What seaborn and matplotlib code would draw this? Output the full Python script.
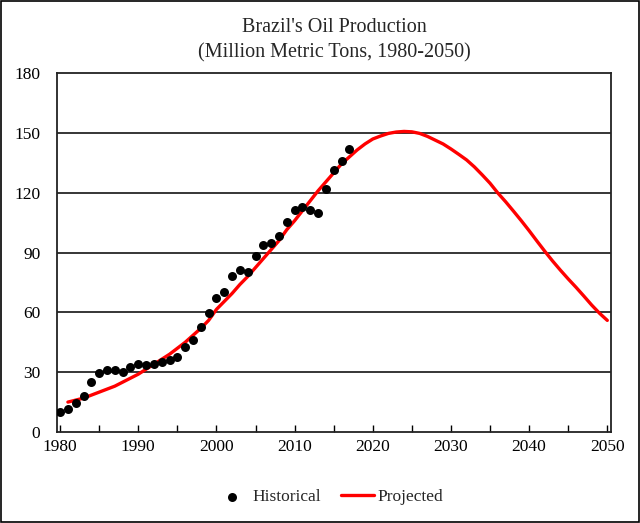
import numpy as np
import pandas as pd
import matplotlib.pyplot as plt
import seaborn as sns
from matplotlib.patches import Rectangle

# Historical production (1980-2017), million metric tons
hist_years = list(range(1980, 2018))
hist_values = [10, 11.5, 14.5, 18, 25, 29.5, 31, 31, 30, 32.5,
               34, 33.5, 34, 35, 36, 37.5, 42.5, 46, 52.5, 59.5,
               67, 70, 78.5, 81.5, 80.5, 88.5, 94, 95, 98.5, 105.5,
               111.5, 113, 111.5, 110, 122, 131.5, 136, 142]

# Projected curve (1981-2050)
proj_years = list(range(1981, 2051))
proj_values = [15, 16, 17, 18.5, 20, 21.5, 23, 25, 27,
               29, 31.5, 34, 36.5, 39, 42, 45, 48.5, 52, 56,
               61.5, 65.5, 69.5, 74, 78, 82.5, 87, 91.5, 96, 101.5,
               106, 111, 116, 121, 125.5, 130, 134.5, 138, 141.5, 144.5,
               147, 148.5, 149.8, 150.5, 150.8, 150.6, 149.8, 148.3, 146.4, 144.5,
               142, 139.3, 136.5, 133, 129, 124.8, 119.9, 115.5, 110.8, 106,
               101, 95.8, 90.7, 85.8, 81.2, 76.8, 72.6, 68.2, 63.7, 59.6,
               56]

hist = pd.DataFrame({'year': hist_years, 'value': hist_values})
proj = pd.DataFrame({'year': proj_years, 'value': proj_values})

sns.set_style('white')
plt.rcParams['font.family'] = ['Liberation Serif', 'DejaVu Serif']

fig = plt.figure(figsize=(6.4, 5.23), dpi=100)
ax = fig.add_axes([0.089, 0.174, 0.866, 0.686])

# Horizontal gridlines
for yv in range(30, 180, 30):
    ax.axhline(yv, color='black', lw=1.1, zorder=1)

sns.lineplot(data=proj, x='year', y='value', ax=ax, color='#ff0000', lw=2.4,
             label='Projected', zorder=3)
sns.scatterplot(data=hist, x='year', y='value', ax=ax, color='black', s=42,
                edgecolor='black', linewidth=0, label='Historical', zorder=4)

ax.set_xlim(1979.6, 2050.5)
ax.set_ylim(0, 180)
ax.set_yticks(range(0, 181, 30))
ax.set_xticks(range(1980, 2051, 10))
ax.set_xticks(range(1985, 2050, 10), minor=True)
ax.tick_params(axis='x', which='both', direction='in', length=5, width=1,
               colors='black', labelsize=12.5, pad=5, bottom=True)
ax.tick_params(axis='y', length=0, labelsize=12.5, pad=12, colors='black')
ax.set_xlabel('')
ax.set_ylabel('')
for s in ax.spines.values():
    s.set_color('#222222')
    s.set_linewidth(1.3)

ax.set_title("Brazil's Oil Production\n(Million Metric Tons, 1980-2050)",
             fontsize=14.5, pad=11, linespacing=1.45)

handles, labels = ax.get_legend_handles_labels()
order = [labels.index('Historical'), labels.index('Projected')]
ax.get_legend().remove()
fig.legend([handles[i] for i in order], [labels[i] for i in order],
           loc='center', bbox_to_anchor=(0.515, 0.049), ncol=2, frameon=False,
           fontsize=12.5, handlelength=1.9, columnspacing=1.2, handletextpad=0.2)

# Chart border
fig.patches.append(Rectangle((0.002, 0.002), 0.996, 0.996, transform=fig.transFigure,
                             fill=False, edgecolor='black', lw=1.2))

fig.savefig('out.png', dpi=100)
